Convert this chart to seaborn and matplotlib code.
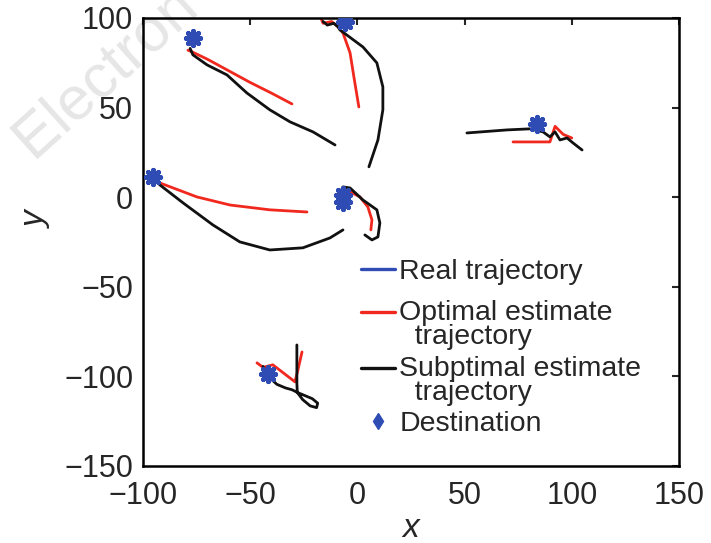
import matplotlib
matplotlib.use("Agg")
import matplotlib.pyplot as plt
from matplotlib.lines import Line2D
from matplotlib.legend_handler import HandlerLine2D
import numpy as np
import pandas as pd
import seaborn as sns

# ---- data (target tracking in the x-y plane) ----
# optimal estimate trajectories (red)
opt_x = [
    [-79, -77, -70, -60, -50, -40, -30.5],
    [-17, -16, -12, -9, -6.7, -3.4, -1.6, 0.7],
    [72.6, 89.8, 92.2, 96, 100],
    [-95.3, -92.1, -74.8, -59.4, -40.8, -23.5],
    [-6.7, 1.2, 4.9, 6.8, 6.3],
    [-46.8, -44, -39.4, -29.1, -27.7, -25.8],
]
opt_y = [
    [82, 81, 77, 70.5, 64, 58, 52],
    [100, 97, 98, 95, 91.6, 80.5, 67, 50.3],
    [30.8, 30.8, 39.5, 35, 33],
    [11.3, 7.9, 0.1, -4.4, -7.1, -8.3],
    [5.1, 0.1, -5.5, -12.7, -18.3],
    [-92.5, -95, -93.6, -103.1, -96.4, -86.4],
]

# suboptimal estimate trajectories (black)
sub_x = [
    [-78, -76.7, -70.1, -60.8, -51.5, -40.8, -31.4, -20.7, -10.4],
    [-16, -14, -11, -9, -8.1, 2.6, 9.1, 11.9, 11.9, 9.6, 5.4],
    [51.1, 69.8, 80.5, 86.6, 89.8, 92.2, 94.5, 97.8, 100.6, 104.8],
    [-95.3, -92.1, -81.3, -67.4, -54.8, -40.8, -25.4, -12.8, -6.7],
    [-8.1, -6.7, -3.4, 2.6, 9.1, 10.5, 9.6, 6.8, 3.5],
    [-44, -40.8, -37.5, -33.5, -30.5, -28, -25, -21, -18.5, -19, -22, -25.5,
     -28, -28.2, -28.2, -28.2],
]
sub_y = [
    [83, 79.4, 73.8, 68.2, 58.1, 48.7, 42, 36.4, 29.1],
    [98, 96, 97, 95, 93.3, 83.8, 74.9, 61.5, 48.7, 31.9, 16.9],
    [35.8, 37.5, 38.1, 36.4, 33.6, 36.4, 31.9, 33, 30.2, 26.3],
    [11.3, 6.8, -3.2, -15.5, -25, -29.5, -28.3, -22.8, -18.3],
    [2.3, 5.7, 5.1, -1.6, -7.1, -14.4, -22.2, -23.9, -21.1],
    [-94.5, -100.9, -104.5, -106.5, -107.5, -109, -110.5, -112.5, -115,
     -117.5, -116.5, -113, -109, -104, -95, -82.5],
]

# real trajectories (blue, mostly hidden under the estimates)
real_x = [[-77.5, -76.7], [-7, -5.8], [85, 83.8], [-94.5, -95.5], [-6.5, -6.7], [-42.5, -41.7]]
real_y = [[85, 88.8], [96, 97.5], [39, 41], [10, 11.5], [1, -1], [-97, -98.5]]

# destinations
dest_x = [-76.7, -5.8, 83.8, -95.5, -6.7, -6.7, -41.7]
dest_y = [88.8, 97.5, 41.0, 11.5, 1.0, -3.0, -98.5]

x_ticks = [-100, -50, 0, 50, 100, 150]
y_ticks = [-150, -100, -50, 0, 50, 100]

BLUE = "#2f4cb5"
RED = "#f0281e"
BLACK = "#111111"

sns.set_style("white")
plt.rcParams["font.family"] = ["Liberation Sans", "DejaVu Sans"]

fig = plt.figure(figsize=(7.11, 5.43), dpi=100)
# faint watermark behind the axes
fig.text(0.005, 0.69, "Electron", fontsize=44, color="#e6e6e6", rotation=42,
         ha="left", va="bottom", zorder=-1)
ax = fig.add_axes([0.201, 0.142, 0.754, 0.825])
ax.patch.set_alpha(0)


def draw(xs, ys, color, lw):
    for x, y in zip(xs, ys):
        df = pd.DataFrame({"x": x, "y": y})
        sns.lineplot(data=df, x="x", y="y", sort=False, estimator=None,
                     color=color, linewidth=lw, ax=ax)


draw(real_x, real_y, BLUE, 2.0)
draw(opt_x, opt_y, RED, 2.0)
draw(sub_x, sub_y, BLACK, 2.0)

dest = pd.DataFrame({"x": dest_x, "y": dest_y})
sns.scatterplot(data=dest, x="x", y="y", marker=(8, 2, 0), s=110,
                color=BLUE, edgecolor=BLUE, linewidth=3.4, ax=ax, zorder=5)

ax.set_xlim(-100, 150)
ax.set_ylim(-150, 100)
ax.set_xticks(x_ticks)
ax.set_yticks(y_ticks)
ax.tick_params(direction="in", length=5, width=1.5, labelsize=22,
               top=True, right=True, pad=7)
ax.tick_params(axis="x", pad=11)
for s in ax.spines.values():
    s.set_linewidth(1.8)
    s.set_color("black")
ax.set_xlabel("x", fontsize=24, style="italic")
ax.set_ylabel("y", fontsize=24, style="italic")
ax.xaxis.set_label_coords(0.5, -0.105)
ax.yaxis.set_label_coords(-0.17, 0.55)


# handles of the two-line entries sit on the first line of text
class TopLine(HandlerLine2D):
    def __init__(self, dy, **kw):
        super().__init__(**kw)
        self.dy = dy

    def create_artists(self, legend, orig_handle, xdescent, ydescent,
                       width, height, fontsize, trans):
        arts = super().create_artists(legend, orig_handle, xdescent, ydescent,
                                      width, height, fontsize, trans)
        for a in arts:
            a.set_ydata(np.asarray(a.get_ydata()) + self.dy)
        return arts


h_real = Line2D([], [], color=BLUE, lw=2.4)
h_opt = Line2D([], [], color=RED, lw=2.4)
h_sub = Line2D([], [], color=BLACK, lw=2.4)
h_dest = Line2D([], [], color=BLUE, marker="d", ls="none", ms=8)

leg_kw = dict(loc="upper left", frameon=False, fontsize=20.5, handlelength=1.2,
              handletextpad=0.15, borderaxespad=0)
leg1 = ax.legend([h_real], ["Real trajectory"], bbox_to_anchor=(0.385, 0.488), **leg_kw)
ax.add_artist(leg1)
leg2 = ax.legend([h_opt, h_sub, h_dest],
                 ["Optimal estimate\n  trajectory", "Subptimal estimate\n  trajectory",
                  "Destination"],
                 bbox_to_anchor=(0.385, 0.396), labelspacing=0.2,
                 handler_map={h_opt: TopLine(9.0), h_sub: TopLine(9.0)}, **leg_kw)
for t in leg2.get_texts():
    t.set_linespacing(0.9)

fig.savefig("out.png", dpi=100)
